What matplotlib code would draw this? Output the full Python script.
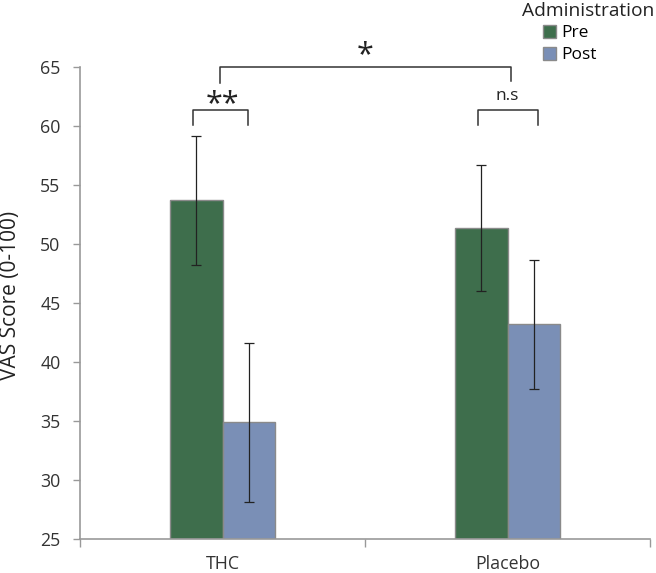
import matplotlib
matplotlib.use("Agg")
import matplotlib.pyplot as plt
import numpy as np

plt.rcParams['font.family'] = ['Open Sans', 'DejaVu Sans']

categories = ["THC", "Placebo"]
series_names = ["Pre", "Post"]
pre_values = [53.7, 51.4]
post_values = [34.9, 43.2]
pre_err_low = [48.2, 46.0]
pre_err_high = [59.2, 56.7]
post_err_low = [28.1, 37.7]
post_err_high = [41.6, 48.65]
y_ticks = [25, 30, 35, 40, 45, 50, 55, 60, 65]

colors = ["#3e6e4c", "#7a8fb6"]
edge = "#8a8a8a"
axis_col = "#999999"

fig = plt.figure(figsize=(6.56, 5.73), dpi=100)
ax = fig.add_axes([80/656, 1-538.5/573, 570/656, (538.5-67.3)/573])

x = np.arange(len(categories))
w = 0.1845
bars = []
for i, (vals, lo, hi) in enumerate([(pre_values, pre_err_low, pre_err_high),
                                     (post_values, post_err_low, post_err_high)]):
    xs = x + (i - 0.5) * w
    vals = np.array(vals)
    yerr = np.array([vals - np.array(lo), np.array(hi) - vals])
    b = ax.bar(xs, vals - 25, bottom=25, width=w, color=colors[i], edgecolor=edge,
               linewidth=1.0, label=series_names[i], zorder=2)
    bars.append(b)
    ax.errorbar(xs, vals, yerr=yerr, fmt='none', ecolor='#222222', elinewidth=0.9,
                capsize=3.5, capthick=0.9, zorder=3)

ax.set_xlim(-0.5, 1.5)
ax.set_ylim(25, 65)
ax.set_yticks(y_ticks)
ax.set_yticklabels([str(v) for v in y_ticks], fontsize=12.8, color='#333333')
ax.set_xticks([-0.5, 0.5, 1.5])
ax.set_xticklabels([])
ax.set_xticks(x, minor=True)
ax.set_xticklabels(categories, minor=True, fontsize=12.8, color='#333333')
ax.tick_params(axis='x', which='minor', length=0, pad=12)
ax.tick_params(axis='x', which='major', length=6, width=1, color=axis_col, direction='out')
ax.tick_params(axis='y', length=5, width=1, color=axis_col, pad=9)
for s in ['top', 'right']:
    ax.spines[s].set_visible(False)
for s in ['left', 'bottom']:
    ax.spines[s].set_color(axis_col)
    ax.spines[s].set_linewidth(1.2)

fig.text(10.5/656, 1-295.5/573, "VAS Score (0-100)", rotation=90, ha='center',
         va='center', fontsize=15, color='#222222')

# significance brackets
def bracket(x0, x1, ytop, ybot_l, ybot_r, text, tx, ty, fs):
    ax.plot([x0, x0, x1, x1], [ybot_l, ytop, ytop, ybot_r], color='#333333',
            lw=1.1, clip_on=False, zorder=4)
    ax.text(tx, ty, text, ha='center', va='center', fontsize=fs, color='#222222',
            clip_on=False)

bracket(-0.105, 0.09, 61.4, 60.1, 60.1, "**", -0.0, 61.9, 22)
bracket(0.898, 1.107, 61.4, 60.1, 60.1, "n.s", 1.0, 62.6, 12.5)
bracket(-0.01, 1.012, 65.0, 63.7, 63.8, "*", 0.5, 66.0, 22)

fig.text(522/656, 1-10.5/573, "Administration", ha='left', va='center', fontsize=13.8,
         color='#222222')
leg = fig.legend(handles=bars, labels=series_names, loc='upper left',
                 bbox_to_anchor=(531/656, 1-13/573), frameon=False, fontsize=12.5,
                 handlelength=0.72, handleheight=0.72, handletextpad=0.35,
                 labelspacing=0.33, borderpad=0.2)

fig.savefig("out.png", dpi=100)
